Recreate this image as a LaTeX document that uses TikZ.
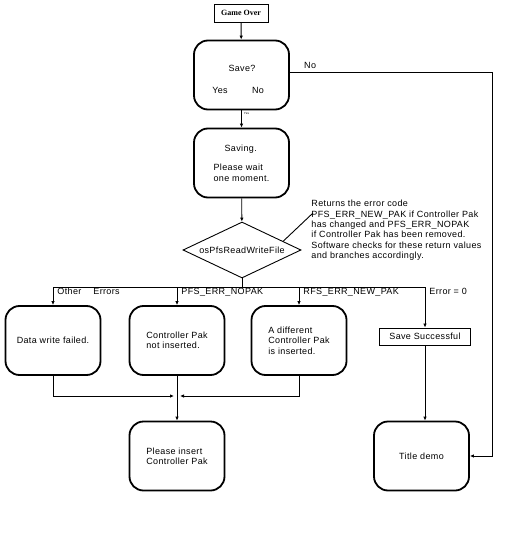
\documentclass[tikz,border=0pt]{standalone}
\usepackage{fontspec}
\setmainfont{Liberation Sans}[LetterSpace=4]
\newfontfamily\titlefont{Liberation Serif}
\usetikzlibrary{arrows.meta,shapes.geometric,positioning,calc}

\begin{document}
\begin{tikzpicture}[x=1pt, y=-1pt, line width=0.9pt, >={Latex[length=4pt,width=3.5pt]},
    font=\fontsize{9}{10.3}\selectfont]
    \tikzset{
        screen/.style={draw, line width=1.8pt, rounded corners=14pt, minimum width=95pt, minimum height=69pt, align=left, inner sep=2pt},
        plainbox/.style={draw, line width=0.9pt, inner sep=3pt},
        branch/.style={anchor=north west, inner sep=1pt}
    }
    \useasboundingbox (0,0) rectangle (505,540);

    % States
    \node[plainbox, font=\titlefont\fontsize{8}{9}\selectfont\bfseries, minimum width=54pt, minimum height=18pt] (over) at (241,13) {Game Over};
    \node[screen] (save) at (241.5,75) {};
    \node (saveq) at (242,68) {Save?};
    \node (yes) at (220,90) {Yes};
    \node (no) at (258,90) {No};
    \node[screen] (saving) at (241.5,163) {\hspace*{11pt}Saving.\\[9pt]Please wait\\one moment.};
    \node[draw, diamond, aspect=2.1, minimum width=118pt, minimum height=56pt, inner sep=0pt] (read) at (242,250) {};
    \node (readtxt) at (read.center) {osPfsReadWriteFile};
    \node[align=left, anchor=north west, inner sep=0pt] (note) at (311,200) {Returns the error code\\PFS\_ERR\_NEW\_PAK if Controller Pak\\has changed and PFS\_ERR\_NOPAK\\if Controller Pak has been removed.\\Software checks for these return values\\and branches accordingly.};
    \coordinate (notetip) at ($(note.north west)+(2,13)$);

    \node[screen] (fail) at (53,340.5) {Data write failed.};
    \node[screen] (nopak) at (177,340.5) {Controller Pak\\not inserted.};
    \node[screen] (newpak) at (299,340.5) {A different\\Controller Pak\\is inserted.};
    \node[plainbox, minimum width=91pt, minimum height=17pt] (success) at (425,336.5) {Save Successful};
    \node[screen] (insert) at (177,456) {Please insert\\Controller Pak};
    \node[screen] (title) at (421.5,456) {Title demo};

    % Transitions
    \draw[->] (over) -- (save);
    \draw[->] (save) -- node[right, pos=0.2, inner sep=2pt, font=\fontsize{3}{3}\selectfont] {Yes} (saving);
    \draw[->] (saving) -- (read);
    \draw (read.12) -- (notetip);
    \coordinate (bus) at (242,287);
    \draw (read.south) -- (bus);
    \draw[->] (bus) -| (fail.north);
    \draw[->] (bus) -| (nopak.north);
    \draw[->] (bus) -| (newpak.north);
    \draw[->] (bus) -| (success.north);
    \coordinate (turn) at (492,72);
    \draw[->] (save.east |- turn) -- node[above, pos=0.1] {No} (turn) |- (title.east);
    \coordinate (join) at (177,396);
    \draw[->] (fail.south) |- ([xshift=-3pt]join);
    \draw[->] (newpak.south) |- ([xshift=3pt]join);
    \draw[->] (nopak) -- (insert);
    \draw[->] (success) -- (success |- title.north);

    % Branch labels
    \node[branch] (lother) at ([xshift=3pt]fail.north |- bus) {Other\hspace{12pt}Errors};
    \node[branch] (lnopak) at ([xshift=3pt]nopak.north |- bus) {PFS\_ERR\_NOPAK};
    \node[branch] (lnewpak) at ([xshift=3pt]newpak.north |- bus) {RFS\_ERR\_NEW\_PAK};
    \node[branch] (lok) at ([xshift=3pt]success.north |- bus) {Error = 0};
\end{tikzpicture}
\end{document}
